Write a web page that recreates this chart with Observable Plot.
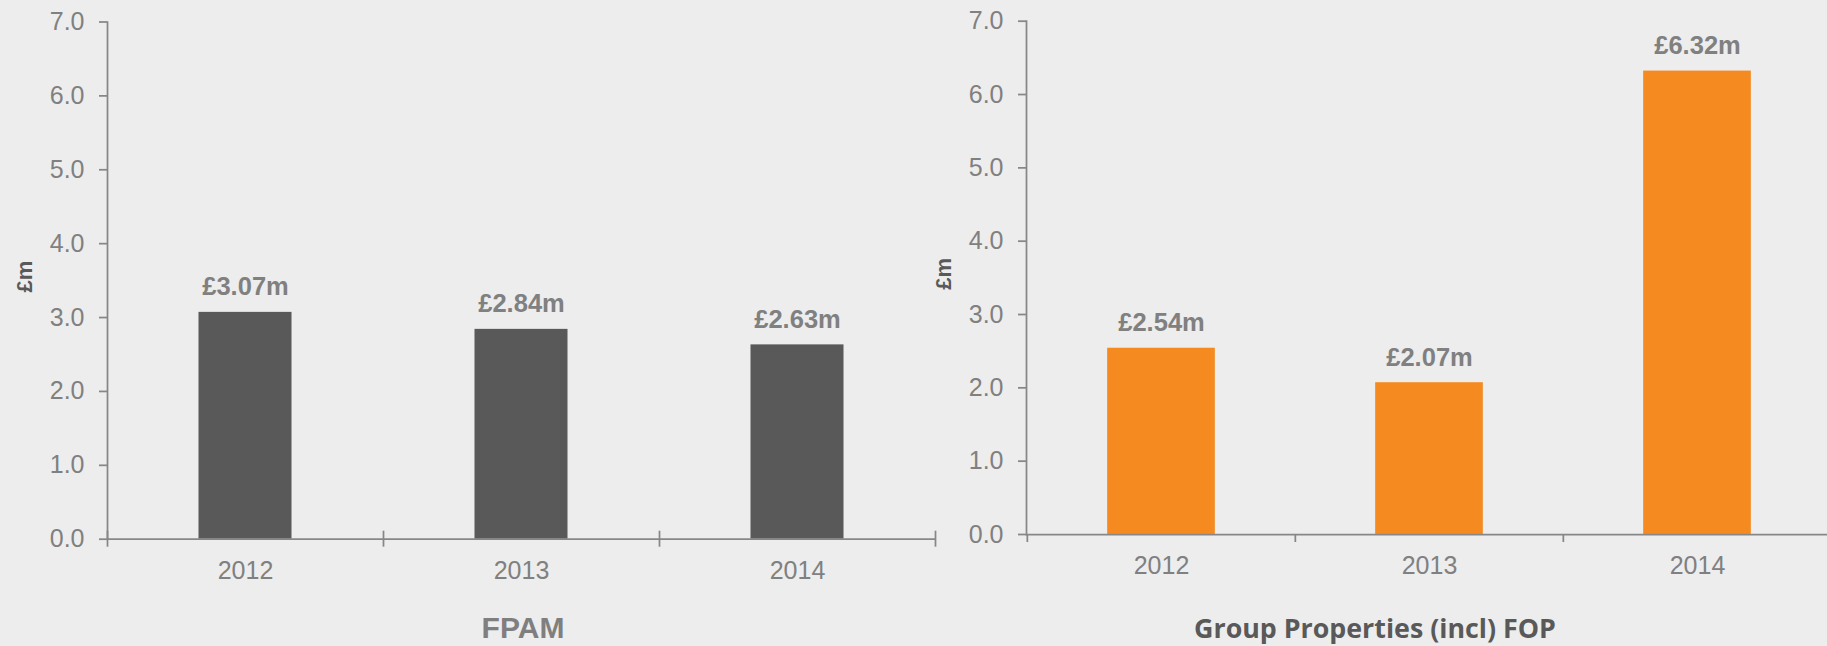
<!DOCTYPE html>
<html><head><meta charset="utf-8">
<script src="https://cdn.jsdelivr.net/npm/d3@7"></script>
<script src="https://cdn.jsdelivr.net/npm/@observablehq/plot@0.6"></script>
<style>
html,body{margin:0;padding:0;background:#ededed;}
body{width:1827px;height:646px;position:relative;overflow:hidden;font-family:"Liberation Sans",Arial,sans-serif;}
.panel{position:absolute;top:0;}
.title{position:absolute;white-space:nowrap;transform:translate(-50%,-50%);font-weight:bold;line-height:1;}
</style></head><body>
<div id="left" class="panel" style="left:0"></div>
<div id="right" class="panel" style="left:900px"></div>
<div class="title" id="t1" style="left:523px;top:628px;font-size:30px;color:#7f7f7f;"></div>
<div class="title" id="t2" style="left:1375px;top:628px;font-family:'Open Sans',sans-serif;font-size:26.8px;color:#595959;"></div>
<script>
const years = ["2012", "2013", "2014"];
const fpamValues = [3.07, 2.84, 2.63];
const groupValues = [2.54, 2.07, 6.32];
const yTicks = [0, 1, 2, 3, 4, 5, 6, 7];
const panelTitles = ["FPAM", "Group Properties (incl) FOP"];
const yLabel = "£m";

const axisColor = "#878787";
const tickTextColor = "#808080";

function makeChart({values, color, width, height, marginLeft, marginRight, marginTop, marginBottom, barWidth, crossTicks}) {
  const data = years.map((year, i) => ({year, value: values[i]}));
  const bw = (width - marginLeft - marginRight) / years.length;
  const inset = (bw - barWidth) / 2;
  return Plot.plot({
    width, height, marginLeft, marginRight, marginTop, marginBottom,
    style: {background: "none", overflow: "visible", maxWidth: "none", fontFamily: "'Liberation Sans', Arial, sans-serif"},
    x: {type: "band", domain: years, padding: 0, axis: null},
    y: {domain: [0, 7], axis: null},
    marks: [
      Plot.barY(data, {x: "year", y: "value", fill: color, insetLeft: inset, insetRight: inset}),
      Plot.text(data, {x: "year", y: "value", text: d => `£${d.value.toFixed(2)}m`, dy: -17, lineAnchor: "bottom", fontSize: 25.5, fontWeight: "bold", fill: tickTextColor}),
      Plot.ruleY([0], {stroke: axisColor, strokeWidth: 1.75}),
      Plot.frame({anchor: "left", stroke: axisColor, strokeWidth: 1.75}),
      Plot.ruleX(years, {x: d => d, y1: 0, y2: 0, dx: -bw / 2, insetTop: crossTicks ? -8 : 0, insetBottom: -8, stroke: axisColor, strokeWidth: 1.75}),
      Plot.ruleX(years.slice(-1), {x: d => d, y1: 0, y2: 0, dx: bw / 2, insetTop: crossTicks ? -8 : 0, insetBottom: -8, stroke: axisColor, strokeWidth: 1.75}),
      Plot.axisY({ticks: yTicks, tickFormat: d => d.toFixed(1), tickSize: 8, tickPadding: 15, fontSize: 25, stroke: axisColor, fill: tickTextColor, color: tickTextColor, strokeWidth: 1.75, label: null}),
      Plot.axisX({tickSize: 0, tickPadding: 22, fontSize: 25, fill: tickTextColor, color: tickTextColor, label: null}),
      Plot.text([yLabel], {frameAnchor: "left", rotate: -90, dx: -83, dy: 12, fontSize: 22, fontWeight: "bold", fill: "#595959"})
    ]
  });
}

document.getElementById("left").append(makeChart({
  values: fpamValues, color: "#595959", width: 960, height: 600,
  marginLeft: 107, marginRight: 25, marginTop: 21.5, marginBottom: 61.3, barWidth: 93, crossTicks: true
}));
document.getElementById("right").append(makeChart({
  values: groupValues, color: "#f58b20", width: 931, height: 600,
  marginLeft: 126, marginRight: 0, marginTop: 20.7, marginBottom: 66, barWidth: 108, crossTicks: false
}));
document.getElementById("t1").textContent = panelTitles[0];
document.getElementById("t2").textContent = panelTitles[1];
</script>
</body></html>
